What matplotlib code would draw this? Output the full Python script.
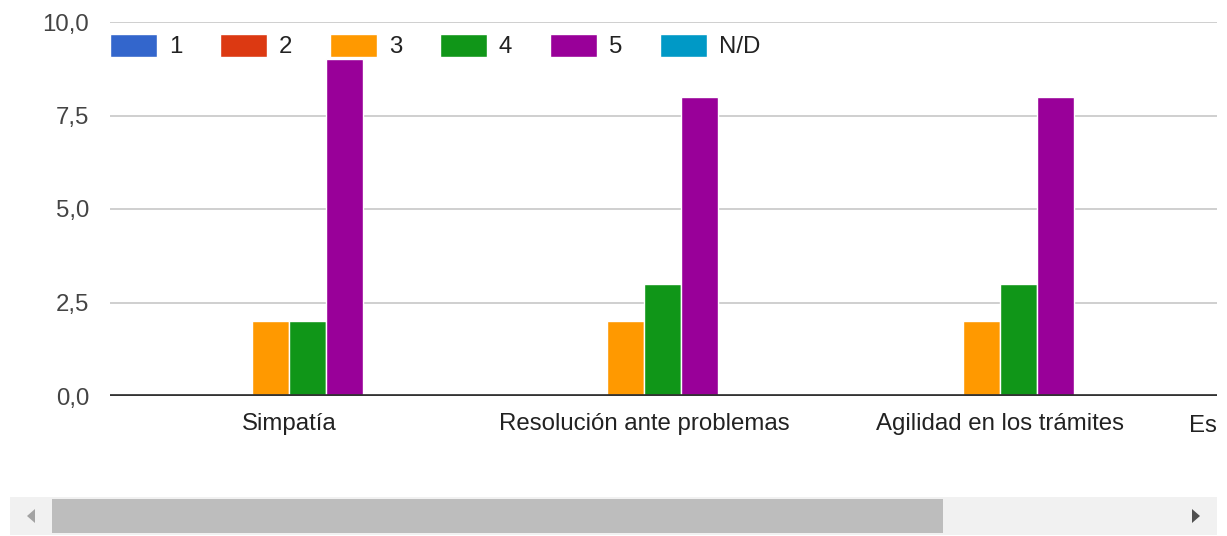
import matplotlib
matplotlib.use("Agg")
import matplotlib.pyplot as plt
from matplotlib.patches import Rectangle, Polygon
import numpy as np

plt.rcParams['font.family'] = ['Liberation Sans', 'DejaVu Sans']

# data
categories = ["Simpatía", "Resolución ante problemas", "Agilidad en los trámites"]
cut_label = "Es"   # fourth category, cut off by the scroll window
series = ["1", "2", "3", "4", "5", "N/D"]
vals_1 = [0, 0, 0]
vals_2 = [0, 0, 0]
vals_3 = [2, 2, 2]
vals_4 = [2, 3, 3]
vals_5 = [9, 8, 8]
vals_nd = [0, 0, 0]
yticks = [0, 2.5, 5, 7.5, 10]
ytick_labels = ["0,0", "2,5", "5,0", "7,5", "10,0"]

colors = ["#3366cc", "#dc3912", "#ff9900", "#109618", "#990099", "#0099c6"]
all_vals = [vals_1, vals_2, vals_3, vals_4, vals_5, vals_nd]

W, H = 1227, 536
fs = 17.3
fig = plt.figure(figsize=(W / 100, H / 100), dpi=100)
ax = fig.add_axes([110 / W, 140 / H, 1107 / W, 374 / H])

x = np.arange(len(categories))
bw = 0.104
for i, (name, v, c) in enumerate(zip(series, all_vals, colors)):
    off = (i - 2.5) * bw
    ax.bar(x + off, v, width=bw, color=c, edgecolor="white", linewidth=1, label=name, zorder=3)

ax.set_xlim(-0.503, 2.61)
ax.set_ylim(0, 10)
ax.set_yticks(yticks)
ax.set_yticklabels(ytick_labels)
ax.set_xticks(x)
ax.set_xticklabels(categories)
ax.tick_params(axis="both", length=0, labelsize=fs, colors="#222222")
ax.tick_params(axis="y", pad=15, labelcolor="#444444")
ax.tick_params(axis="x", pad=12)
ax.text(1.0, -0.05, cut_label, transform=ax.transAxes, ha="right", va="top",
        fontsize=fs, color="#222222")

for s in ax.spines.values():
    s.set_visible(False)
for yt in yticks[1:]:
    ax.axhline(yt, color="#cccccc", linewidth=1.3, zorder=1)
ax.axhline(0, color="#333333", linewidth=2.7, zorder=4)

leg = ax.legend(loc="center left", bbox_to_anchor=(0.0, 0.936), ncol=6, frameon=False,
                fontsize=fs, handlelength=1.95, handleheight=1.1, handletextpad=0.5,
                columnspacing=1.57, borderpad=0, borderaxespad=0)
for t in leg.get_texts():
    t.set_color("#222222")

# scroll bar below the chart
fig.patches.append(Rectangle((10, H - 535), 1207, 38, transform=None, facecolor="#f1f1f1",
                             edgecolor="none"))
fig.patches.append(Rectangle((52, H - 533), 891, 34, transform=None, facecolor="#bdbdbd",
                             edgecolor="none"))
fig.patches.append(Polygon([(27, H - 516), (35, H - 509), (35, H - 523)], closed=True,
                           transform=None, facecolor="#a3a3a3", edgecolor="none"))
fig.patches.append(Polygon([(1200, H - 516), (1192, H - 509), (1192, H - 523)], closed=True,
                           transform=None, facecolor="#505050", edgecolor="none"))

fig.savefig("out.png", dpi=100, facecolor="white")
